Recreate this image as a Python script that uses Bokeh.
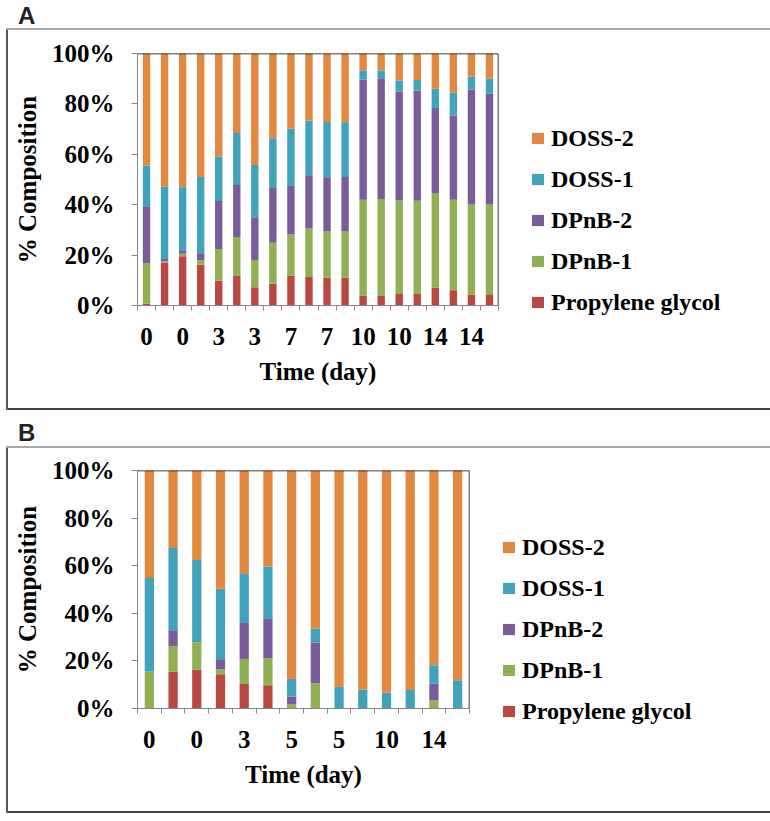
from bokeh.plotting import figure
from bokeh.models import (ColumnDataSource, FixedTicker, Legend, LegendItem, Span, Div,
                          Range1d, CustomJSTickFormatter, PrintfTickFormatter)
from bokeh.layouts import column
from bokeh.embed import file_html
from bokeh.resources import INLINE

# ---------------- data ----------------
series = ["Propylene glycol", "DPnB-1", "DPnB-2", "DOSS-1", "DOSS-2"]
keys = ["pg", "dpnb1", "dpnb2", "doss1", "doss2"]
colors = ["#BA4842", "#91AF53", "#7A5C9A", "#41A2BB", "#E2883F"]

# Panel A
days_a = ["0", "0", "0", "0", "3", "3", "3", "3", "7", "7", "7", "7",
          "10", "10", "10", "10", "14", "14", "14", "14"]
pg_a = [0.7, 17.0, 19.5, 16.3, 9.8, 11.7, 7.2, 8.6, 11.9, 11.3, 11.0, 11.0,
        4.0, 3.8, 4.6, 4.6, 7.0, 6.1, 4.4, 4.5]
dpnb1_a = [16.1, 0.5, 1.0, 1.7, 12.6, 15.5, 10.9, 16.3, 16.3, 19.3, 18.5, 18.5,
           38.0, 38.5, 37.1, 37.0, 37.6, 35.9, 35.7, 35.8]
dpnb2_a = [22.3, 1.0, 1.4, 2.7, 19.1, 20.6, 16.9, 21.7, 19.2, 21.1, 21.4, 21.5,
           47.7, 47.9, 43.1, 43.7, 33.8, 33.4, 45.5, 43.7]
doss1_a = [16.5, 28.7, 25.0, 30.3, 17.6, 20.7, 20.8, 19.8, 22.8, 21.7, 21.9, 21.7,
           3.7, 3.2, 4.5, 4.2, 7.6, 9.1, 5.3, 6.1]
doss2_a = [44.4, 52.8, 53.1, 49.0, 40.9, 31.5, 44.2, 33.6, 29.8, 26.6, 27.2, 27.3,
           6.6, 6.6, 10.7, 10.5, 14.0, 15.5, 9.1, 9.9]

# Panel B
days_b = ["0", "0", "0", "0", "3", "3", "5", "5", "5", "5", "10", "10", "14", "14"]
pg_b = [0.0, 15.5, 16.4, 14.4, 10.3, 9.8, 0.0, 0.0, 0.0, 0.0, 0.0, 0.0, 0.0, 0.0]
dpnb1_b = [15.5, 10.7, 11.4, 2.1, 10.5, 11.2, 1.8, 10.6, 0.0, 0.0, 0.0, 0.0, 3.5, 0.0]
dpnb2_b = [0.0, 6.4, 0.0, 3.9, 15.1, 16.9, 3.2, 17.0, 0.0, 0.0, 0.0, 0.0, 7.0, 0.0]
doss1_b = [39.3, 34.8, 34.6, 29.9, 20.9, 21.8, 7.4, 6.0, 9.0, 8.0, 6.6, 7.8, 7.7, 11.9]
doss2_b = [45.2, 32.6, 37.6, 49.7, 43.2, 40.3, 87.6, 66.4, 91.0, 92.0, 93.4, 92.2, 81.8, 88.1]

y_ticks = [0, 20, 40, 60, 80, 100]

SERIF = "Liberation Serif"
AXIS_GRAY = "#868686"


def make_panel(days, arrays, bar_width, frame_w, frame_h, mb_top, mb_right, mb_bottom,
               legend_x, legend_y):
    n = len(days)
    data = {"x": list(range(n))}
    for k, arr in zip(keys, arrays):
        data[k] = arr
    src = ColumnDataSource(data)

    p = figure(frame_width=frame_w, frame_height=frame_h,
               x_range=Range1d(-0.5, n - 0.5), y_range=Range1d(0, 100),
               output_backend="svg", toolbar_location=None,
               min_border_left=131, min_border_right=mb_right,
               min_border_top=mb_top, min_border_bottom=mb_bottom)
    p.margin = (0, 0, 0, 6)
    p.align = "start"
    p.outline_line_color = None
    p.xgrid.visible = False
    p.ygrid.visible = False
    p.background_fill_color = "white"
    p.border_fill_color = None

    rs = p.vbar_stack(keys, x="x", width=bar_width, source=src,
                      fill_color=colors, line_color=None)

    # frame top / right border lines
    p.add_layout(Span(location=100, dimension="width", line_color="black", line_width=1.5))
    p.add_layout(Span(location=n - 0.5, dimension="height", line_color="black", line_width=1.5))

    # x axis
    xa = p.xaxis[0]
    xa.ticker = FixedTicker(ticks=[i for i in range(0, n, 2)],
                            minor_ticks=[i - 0.5 for i in range(n + 1)])
    xa.formatter = CustomJSTickFormatter(args=dict(labels=days),
                                         code="return labels[Math.round(tick)];")
    xa.major_tick_out = 0
    xa.major_tick_in = 0
    xa.minor_tick_out = 5
    xa.minor_tick_in = 0
    xa.minor_tick_line_color = AXIS_GRAY
    xa.axis_line_color = AXIS_GRAY
    xa.major_label_standoff = 17
    xa.major_label_text_font = SERIF
    xa.major_label_text_font_style = "bold"
    xa.major_label_text_font_size = "25px"
    xa.major_label_text_color = "black"
    xa.axis_label = "Time (day)"
    xa.axis_label_text_font = SERIF
    xa.axis_label_text_font_style = "bold"
    xa.axis_label_text_font_size = "25px"
    xa.axis_label_text_color = "black"
    xa.axis_label_standoff = 10

    # y axis
    ya = p.yaxis[0]
    ya.ticker = FixedTicker(ticks=y_ticks, minor_ticks=[])
    ya.formatter = PrintfTickFormatter(format="%d%%")
    ya.major_tick_out = 6
    ya.major_tick_in = 0
    ya.major_tick_line_color = AXIS_GRAY
    ya.axis_line_color = AXIS_GRAY
    ya.major_label_standoff = 17
    ya.major_label_text_font = SERIF
    ya.major_label_text_font_style = "bold"
    ya.major_label_text_font_size = "25px"
    ya.major_label_text_color = "black"
    ya.axis_label = "% Composition"
    ya.axis_label_text_font = SERIF
    ya.axis_label_text_font_style = "bold"
    ya.axis_label_text_font_size = "25px"
    ya.axis_label_text_color = "black"
    ya.axis_label_standoff = 8

    items = [LegendItem(label=s, renderers=[r]) for s, r in zip(series, rs)]
    items.reverse()
    legend = Legend(items=items, location=(legend_x, legend_y), orientation="vertical",
                    padding=0, margin=0, border_line_color=None, background_fill_alpha=0,
                    label_text_font=SERIF, label_text_font_style="bold",
                    label_text_font_size="24px", label_text_color="black",
                    glyph_width=15, glyph_height=14, label_standoff=6,
                    label_height=28, spacing=13)
    p.add_layout(legend, "right")

    p.styles = {"box-shadow": ("inset 0 2px 0 0 #a8a8a8, inset 2px 0 0 0 #555555, "
                               "inset -2px 0 0 0 #333333, inset 0 -2px 0 0 #444444"),
                "background-color": "white"}
    return p


pA = make_panel(days_a, [pg_a, dpnb1_a, dpnb2_a, doss1_a, doss2_a], 0.41,
                361, 252, 25, 45, 105, 32, -11)
pB = make_panel(days_b, [pg_b, dpnb1_b, dpnb2_b, doss1_b, doss2_b], 0.39,
                332, 238, 24, 44, 105, 32, -17)

INNER = ("padding-left:18px; font-family:'Liberation Sans'; font-weight:bold; "
         "font-size:24px; color:#222222; line-height:24px;")
divA = Div(text=f'<div style="{INNER} padding-top:4px;">A</div>', width=200, height=28,
           margin=(0, 0, 0, 0))
divB = Div(text=f'<div style="{INNER} padding-top:11px;">B</div>', width=200, height=36,
           margin=(0, 0, 0, 0))

layout = column(divA, pA, divB, pB, spacing=0)

open("out.html", "w").write(file_html(layout, INLINE))
